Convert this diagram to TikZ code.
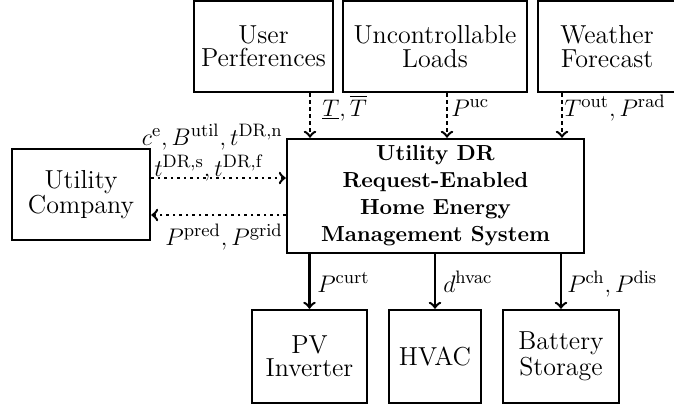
\documentclass[tikz,border=0pt]{standalone}
\usetikzlibrary{positioning}

\begin{document}
\begin{tikzpicture}[x=0.5pt, y=-0.5pt, line width=1.25pt,
        every node/.style={font=\fontsize{13}{11.6}\selectfont},
        block/.style={draw, line width=1.25pt, align=center, inner sep=0pt, minimum height=45.5pt},
        lbl/.style={inner sep=0pt, font=\fontsize{13}{14}\selectfont},
        sig/.style={->, dash pattern=on 2pt off 1.5pt},
        req/.style={->, dotted},
        cmd/.style={->}]
    \useasboundingbox (0,0) rectangle (674,404);
    % input blocks along the top
    \node[block, minimum width=69.5pt] (pref) at (263.5,46.5) {User\\Perferences};
    \node[block, minimum width=92pt] (uncload) at (435,46.5) {Uncontrollable\\Loads};
    \node[block, minimum width=69pt] (weather) at (607,46.5) {Weather\\Forecast};
    \node[block, minimum width=69pt] (utility) at (81,194.5) {Utility\\Company};
    % the energy management system
    \node[block, minimum width=148.5pt, minimum height=57pt,
          font=\fontsize{10.9}{13.5}\selectfont\bfseries] (ems) at (435.5,196)
        {Utility DR\\Request-Enabled\\Home Energy\\Management System};
    % controlled devices
    \node[block, minimum width=57.5pt, minimum height=46.5pt] (pv) at (309.5,356.5) {PV\\Inverter};
    \node[block, minimum width=46pt, minimum height=46.5pt] (hvac) at (435,356.5) {HVAC};
    \node[block, minimum width=58pt, minimum height=46.5pt] (battery) at (561,356.5) {Battery\\Storage};

    \coordinate (prefout) at ([xshift=23.25pt]pref.south);
    \coordinate (uncout) at ([xshift=6pt]uncload.south);
    \coordinate (wthout) at ([xshift=-22.5pt]weather.south);
    \draw[sig] (prefout) -- (prefout |- ems.north);
    \draw[sig] (uncout) -- (uncout |- ems.north);
    \draw[sig] (wthout) -- (wthout |- ems.north);
    \node[lbl, anchor=base west] (comfort) at (321,116) {$\underline{T}, \overline{T}$};
    \node[lbl, anchor=base west] (loadval) at (450,116) {$P^{\mathrm{uc}}$};
    \node[lbl, anchor=base west] (wthval) at (563,116) {$T^{\mathrm{out}}, P^{\mathrm{rad}}$};

    % exchange with the utility
    \coordinate (reqout) at ([yshift=8.25pt]utility.east);
    \coordinate (repin) at ([yshift=-10.25pt]utility.east);
    \draw[req] (reqout) -- (reqout -| ems.west);
    \draw[req] (repin -| ems.west) -- (repin);
    \node[lbl, anchor=base east] (price) at (284,145) {$c^{\mathrm{e}}, B^{\mathrm{util}}, t^{\mathrm{DR,n}}$};
    \node[lbl, anchor=base west] (window) at (153,176) {$t^{\mathrm{DR,s}}, t^{\mathrm{DR,f}}$};
    \node[lbl, anchor=base east] (report) at (284,245) {$P^{\mathrm{pred}}, P^{\mathrm{grid}}$};

    \foreach \dev in {pv,hvac,battery}
        \draw[cmd] (ems.south -| \dev.north) -- (\dev.north);
    \node[lbl, anchor=base west] (curt) at (316,292) {$P^{\mathrm{curt}}$};
    \node[lbl, anchor=base west] (duty) at (442,292) {$d^{\mathrm{hvac}}$};
    \node[lbl, anchor=base west] (chdis) at (566,292) {$P^{\mathrm{ch}}, P^{\mathrm{dis}}$};
\end{tikzpicture}
\end{document}
